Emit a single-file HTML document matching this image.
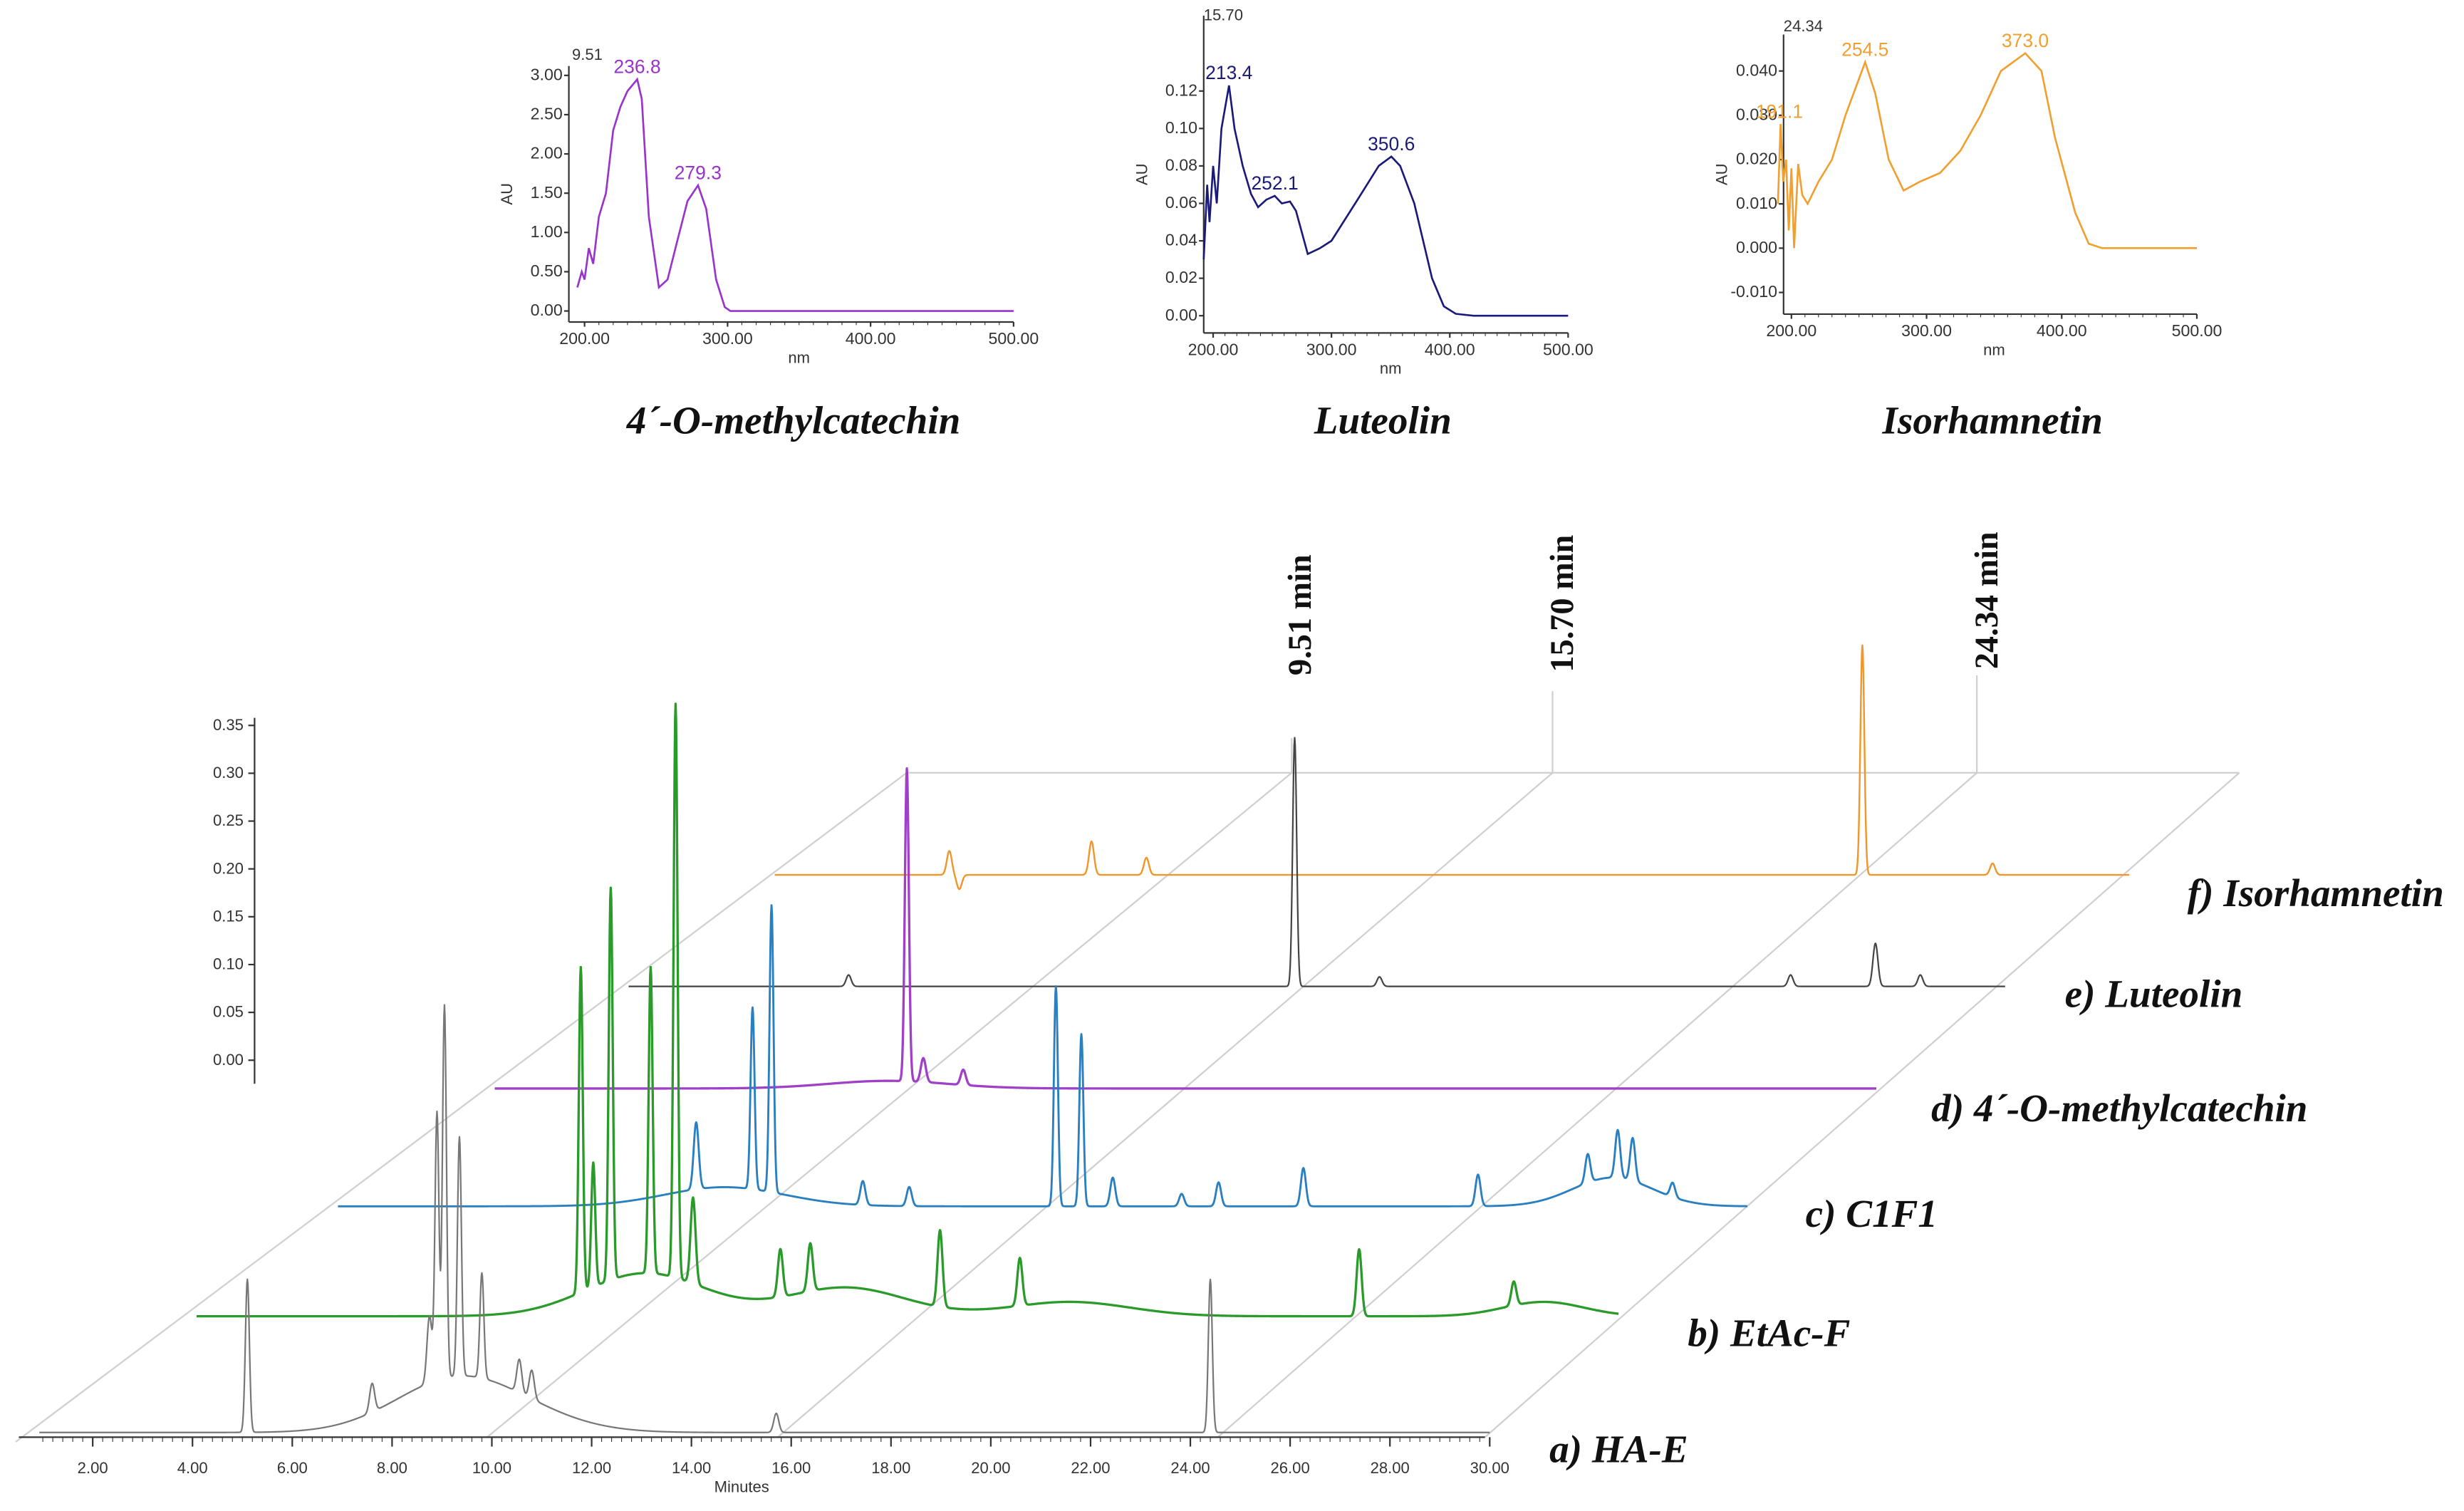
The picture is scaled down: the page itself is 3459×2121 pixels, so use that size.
<!DOCTYPE html>
<html><head><meta charset="utf-8"><style>
html,body{margin:0;padding:0;background:#fff;}
svg{display:block;}
.tk{font-family:"Liberation Sans",sans-serif;font-size:10px;fill:#333;}
.ttl{font-family:"Liberation Serif",serif;font-style:italic;font-weight:600;font-size:25px;fill:#111;}
.mk{font-family:"Liberation Serif",serif;font-weight:bold;font-size:21px;fill:#111;}
</style></head><body>
<svg id="fig" width="3459" height="2121" viewBox="0 0 1568 962" preserveAspectRatio="none" xmlns="http://www.w3.org/2000/svg">
<g id="spectra"></g>
<g id="chrom"></g>
</svg>
<script>
// ---- UV spectra data ----
const spec1Nm=[195,198,200,203,206,210,215,220,225,230,236.8,240,245,252,258,265,272,279.3,285,292,298,302,500];
const spec1Au=[0.3,0.5,0.4,0.8,0.6,1.2,1.5,2.3,2.6,2.8,2.95,2.7,1.2,0.3,0.4,0.9,1.4,1.6,1.3,0.4,0.05,0,0];
const spec2Nm=[192,195,197,200,203,207,213.4,218,225,232,238,245,252.1,258,265,270,280,290,300,320,340,350.6,358,370,385,395,405,420,500];
const spec2Au=[0.03,0.07,0.05,0.08,0.06,0.1,0.123,0.1,0.08,0.065,0.058,0.062,0.064,0.06,0.061,0.056,0.033,0.036,0.04,0.06,0.08,0.085,0.08,0.06,0.02,0.005,0.001,0,0];
const spec3Nm=[190,192,194,196,198,200,202,205,208,212,220,230,240,254.5,262,272,283,295,310,325,340,355,373,385,395,410,420,430,500];
const spec3Au=[0.01,0.028,0.015,0.02,0.004,0.018,0.0,0.019,0.012,0.01,0.015,0.02,0.03,0.042,0.035,0.02,0.013,0.015,0.017,0.022,0.03,0.04,0.044,0.04,0.025,0.008,0.001,0,0];
const spec1Ticks=[0,0.5,1,1.5,2,2.5,3];
const spec2Ticks=[0,0.02,0.04,0.06,0.08,0.1,0.12];
const spec3Ticks=[-0.01,0,0.01,0.02,0.03,0.04];
const nmTicks=[200,300,400,500];

// ---- Chromatogram data (time min, height AU) ----
const aPeakT=[5.1,7.6,8.75,8.9,9.05,9.35,9.8,10.55,10.8,15.7,24.4];
const aPeakH=[0.16,0.03,0.07,0.28,0.39,0.25,0.11,0.035,0.03,0.02,0.16];
const aHumpT=[9.2,10.5];const aHumpH=[0.05,0.015];
const bPeakT=[9.2,9.45,9.8,10.6,11.1,11.45,13.2,13.8,16.4,18.0,24.8,27.9];
const bPeakH=[0.34,0.13,0.41,0.32,0.60,0.09,0.05,0.05,0.08,0.05,0.07,0.025];
const bHumpT=[10.5,14.5,19,28.5];const bHumpH=[0.045,0.03,0.015,0.015];
const cPeakT=[8.93,10.06,10.44,12.27,13.2,16.14,16.65,17.28,18.66,19.4,21.1,24.6,26.8,27.4,27.7,28.5];
const cPeakH=[0.07,0.19,0.30,0.025,0.02,0.23,0.18,0.03,0.013,0.025,0.04,0.033,0.03,0.05,0.045,0.015];
const cHumpT=[9.5,27.3];const cHumpH=[0.02,0.03];
const dPeakT=[10.57,10.9,11.7];const dPeakH=[0.327,0.025,0.016];
const dHumpT=[10.2];const dHumpH=[0.008];
const ePeakT=[6.82,15.76,17.46,25.7,27.4,28.3];const ePeakH=[0.012,0.26,0.01,0.012,0.045,0.012];
const eHumpT=[];const eHumpH=[];
const fPeakT=[6.35,6.55,9.2,10.3,24.65,27.26];const fPeakH=[0.025,-0.015,0.035,0.018,0.24,0.012];
const fHumpT=[];const fHumpH=[];
const chromTicks=[2,4,6,8,10,12,14,16,18,20,22,24,26,28,30];
const yTicks=[0,0.05,0.1,0.15,0.2,0.25,0.3,0.35];

const NS="http://www.w3.org/2000/svg";
function mk(parent,tag,attrs,text){const e=document.createElementNS(NS,tag);for(const k in attrs)e.setAttribute(k,attrs[k]);if(text!==undefined)e.textContent=text;parent.appendChild(e);return e;}

const S=document.getElementById('spectra');
function spectrum(cfg,nm,au,ticks,name){
  const g=mk(S,'g',{});
  
  
  const xs=n=>cfg.x0+(n-200)*cfg.kx, ys=v=>cfg.y0-v*cfg.ky;
  mk(g,'line',{x1:cfg.ax,y1:cfg.top,x2:cfg.ax,y2:cfg.bot,stroke:'#333','stroke-width':1});
  mk(g,'line',{x1:cfg.ax,y1:cfg.bot,x2:xs(500),y2:cfg.bot,stroke:'#333','stroke-width':1});
  ticks.forEach(v=>{mk(g,'line',{x1:cfg.ax-3,y1:ys(v),x2:cfg.ax,y2:ys(v),stroke:'#333'});
    const t=mk(g,'text',{x:cfg.ax-4,y:ys(v)+3,'text-anchor':'end',class:'tk',style:'font-size:10.5px'},v.toFixed(cfg.dec));
    });
  nmTicks.forEach(n=>{mk(g,'line',{x1:xs(n),y1:cfg.bot,x2:xs(n),y2:cfg.bot+3,stroke:'#333'});
    const t=mk(g,'text',{x:xs(n),y:cfg.bot+14,'text-anchor':'middle',class:'tk',style:'font-size:10.5px'},n.toFixed(2));
    });
  for(let n=200;n<=500;n+=10)mk(g,'line',{x1:xs(n),y1:cfg.bot,x2:xs(n),y2:cfg.bot+2,stroke:'#333','stroke-width':0.5});
  let d='';nm.forEach((n,i)=>{d+=(i?'L':'M')+xs(n).toFixed(1)+' '+ys(au[i]).toFixed(1);});
  const p=mk(g,'path',{d:d,fill:'none',stroke:cfg.col,'stroke-width':1.2});
  
  const yl=mk(g,'text',{x:cfg.ax-36,y:(cfg.top+cfg.bot)/2,class:'tk',transform:`rotate(-90 ${cfg.ax-36} ${(cfg.top+cfg.bot)/2})`,'text-anchor':'middle'},'AU');
  
  const xl=mk(g,'text',{x:xs(350),y:cfg.bot+26,class:'tk','text-anchor':'middle'},'nm');
  
  const rt=mk(g,'text',{x:cfg.rtx,y:cfg.rty,class:'tk'},cfg.rt);
  
  cfg.labels.forEach(l=>{const t=mk(g,'text',{x:xs(l[0]),y:ys(l[1])-4,'text-anchor':'middle',class:'tk',style:'font-size:12px;fill:'+cfg.col},l[0].toFixed(1));
    });
  const tt=mk(g,'text',{x:cfg.tx,y:276,'text-anchor':'middle',class:'ttl'},cfg.title);
  
}
spectrum({ax:362,top:42,bot:205,x0:372,kx:0.91,y0:198,ky:50,dec:2,col:'#9933cc',rt:'9.51',rtx:364,rty:38,labels:[[236.8,2.95],[279.3,1.6]],title:'4´-O-methylcatechin',tx:505},spec1Nm,spec1Au,spec1Ticks,'spectrum-4-o-methylcatechin');
spectrum({ax:766,top:10,bot:212,x0:772,kx:0.753,y0:201,ky:1192,dec:2,col:'#1a1a7a',rt:'15.70',rtx:766,rty:13,labels:[[213.4,0.123],[252.1,0.064],[350.6,0.085]],title:'Luteolin',tx:880},spec2Nm,spec2Au,spec2Ticks,'spectrum-luteolin');
spectrum({ax:1135,top:22,bot:200,x0:1140,kx:0.86,y0:158,ky:2820,dec:3,col:'#f0a030',rt:'24.34',rtx:1135,rty:20,labels:[[191.1,0.028],[254.5,0.042],[373.0,0.044]],title:'Isorhamnetin',tx:1268},spec3Nm,spec3Au,spec3Ticks,'spectrum-isorhamnetin');

const C=document.getElementById('chrom');
const KX=31.75, KY=609;
const plane=mk(C,'g',{stroke:'#cfcfcf','stroke-width':1,fill:'none'});

mk(plane,'line',{x1:577,y1:492,x2:1425,y2:492});
[[10,918,577,492],[310,915,822,492],[495,915,988,492],[775,915,1258,492],[945,915,1425,492]].forEach(l=>mk(plane,'line',{x1:l[0],y1:l[1],x2:l[2],y2:l[3]}));
[[822,470],[988,440],[1258,430]].forEach(l=>mk(plane,'line',{x1:l[0],y1:l[1],x2:l[0],y2:492}));
[['9.51 min',834,430],['15.70 min',1001,428],['24.34 min',1271,426]].forEach(m=>{
  const t=mk(C,'text',{x:m[1],y:m[2],class:'mk',transform:`rotate(-90 ${m[1]} ${m[2]})`},m[0]);
  });
const ya=mk(C,'g',{});

mk(ya,'line',{x1:162,y1:457,x2:162,y2:690,stroke:'#333'});
yTicks.forEach(v=>{const y=675-v*KY;mk(ya,'line',{x1:158,y1:y,x2:162,y2:y,stroke:'#333'});
  mk(ya,'text',{x:155,y:y+3,'text-anchor':'end',class:'tk'},v.toFixed(2));});
const xa=mk(C,'g',{});

const fx=t=>59+(t-2)*KX;
mk(xa,'line',{x1:12,y1:915,x2:945,y2:915,stroke:'#333'});
for(let t=1;t<=30.01;t+=0.2)mk(xa,'line',{x1:fx(t),y1:915,x2:fx(t),y2:918,stroke:'#333','stroke-width':0.5});
chromTicks.forEach(t=>{mk(xa,'line',{x1:fx(t),y1:915,x2:fx(t),y2:921,stroke:'#333'});
  mk(xa,'text',{x:fx(t),y:938,'text-anchor':'middle',class:'tk'},t.toFixed(2));});
mk(xa,'text',{x:472,y:950,'text-anchor':'middle',class:'tk'},'Minutes');
function trace(name,base,end,t0,PT,PH,HT,HH,col,sw,label,lx,ly){
  const g=mk(C,'g',{});
  
  
  const xs=t=>end-(30-t)*KX;
  let d='';
  for(let t=t0;t<=30.0001;t+=0.01){
    let h=0;
    PT.forEach((pt,i)=>{const s=Math.abs(PH[i])>0.1?0.04:0.05;h+=PH[i]*Math.exp(-((t-pt)**2)/(2*s*s));});
    HT.forEach((ht,i)=>{const s=ht>26?0.8:1.2;h+=HH[i]*Math.exp(-((t-ht)**2)/(2*s*s));});
    d+=(d?'L':'M')+xs(t).toFixed(2)+' '+(base-h*KY).toFixed(2);
  }
  mk(g,'path',{d:d,fill:'none',stroke:col,'stroke-width':sw,'stroke-linejoin':'round'});
  const t=mk(C,'text',{x:lx,y:ly,class:'ttl'},label);
  
}
trace('trace-f-isorhamnetin',557,1355,2.85,fPeakT,fPeakH,fHumpT,fHumpH,'#f0962a',1.1,'f) Isorhamnetin',1392,577);
trace('trace-e-luteolin',628,1276,2.41,ePeakT,ePeakH,eHumpT,eHumpH,'#444',1,'e) Luteolin',1314,641);
trace('trace-d-4-o-methylcatechin',693,1194,2.31,dPeakT,dPeakH,dHumpT,dHumpH,'#a040c8',1.5,'d) 4´-O-methylcatechin',1229,714);
trace('trace-c-c1f1',768,1112,1.75,cPeakT,cPeakH,cHumpT,cHumpH,'#2a7fc0',1.3,'c) C1F1',1149,781);
trace('trace-b-etac-f',838,1030,1.5,bPeakT,bPeakH,bHumpT,bHumpH,'#2a9a2a',1.5,'b) EtAc-F',1074,857);
trace('trace-a-ha-e',912,948,0.93,aPeakT,aPeakH,aHumpT,aHumpH,'#777',1,'a) HA-E',986,931);
</script>
</body></html>
